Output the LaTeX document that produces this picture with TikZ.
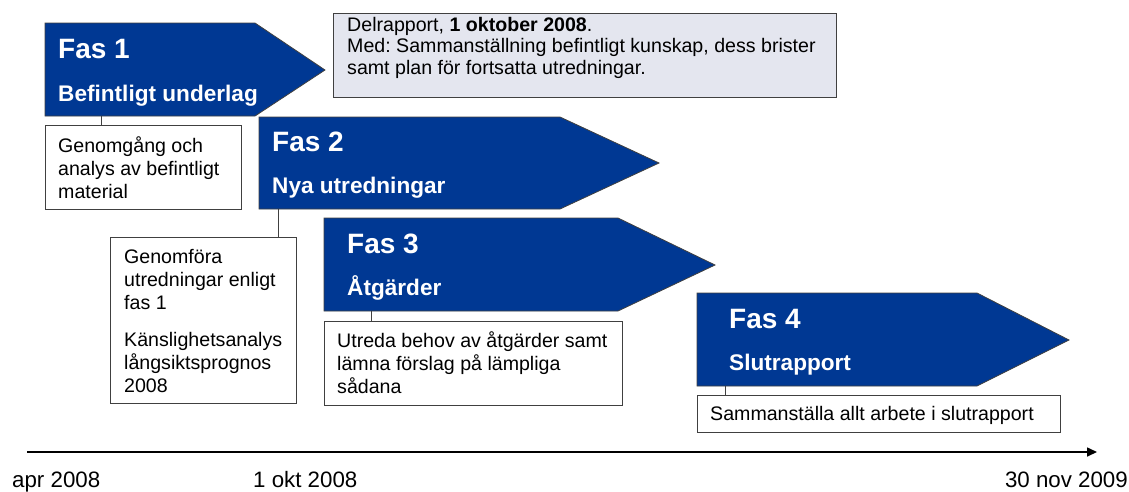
\documentclass[tikz,border=0pt]{standalone}
\usepackage{fontspec}
\setmainfont{Liberation Sans}
\usetikzlibrary{arrows.meta}
\definecolor{fasblue}{RGB}{0,56,147}
\definecolor{edgegray}{RGB}{64,64,64}
\definecolor{delfill}{RGB}{228,230,239}
\frenchspacing
\begin{document}
\begin{tikzpicture}[x=1pt,y=-1pt,
  fas/.style={fill=fasblue, draw=edgegray, line width=0.8pt},
  head/.style={anchor=base west, inner sep=0, text=white, font=\fontsize{28}{32}\selectfont\bfseries},
  sub/.style={anchor=base west, inner sep=0, text=white, font=\fontsize{22.6}{26}\selectfont\bfseries},
  body/.style={anchor=base west, inner sep=0, align=left, font=\fontsize{19.6}{23.3}\selectfont},
  tbox/.style={draw=edgegray, line width=0.8pt, anchor=north west, inner sep=0},
  link/.style={draw=edgegray, line width=0.8pt},
  datelbl/.style={inner sep=0, font=\fontsize{22.3}{26}\selectfont}]
\useasboundingbox (0,0) rectangle (1129,491);

% Fas 1
\draw[fas] (45,23) -- (255,23) -- (325,70) -- (255,116) -- (45,116) -- cycle;
\node[head] (h1) at (58,58) {Fas 1};
\node[sub] (s1) at (58,101) {Befintligt underlag};
\coordinate (f1b) at (101,116);
\node[tbox, minimum width=196, minimum height=84] (b1) at (45,125) {};
\node[body] (t1) at (58,198.6) {Genomgång och\\analys av befintligt\\material};
\draw[link] (f1b) -- (f1b |- b1.north);

% Delrapport
\node[tbox, fill=delfill, minimum width=503, minimum height=84] (del) at (333,13) {};
\node[body, font=\fontsize{19.6}{21.5}\selectfont] (tdel) at (347,74) {Delrapport, \textbf{1 oktober 2008}.\\Med: Sammanställning befintligt kunskap, dess brister\\samt plan för fortsatta utredningar.};

% Fas 2
\draw[fas] (259,117) -- (560,117) -- (659,163) -- (560,209) -- (259,209) -- cycle;
\node[head] (h2) at (272,151) {Fas 2};
\node[sub] (s2) at (272,193) {Nya utredningar};
\coordinate (f2b) at (278,209);
\node[tbox, minimum width=186, minimum height=166] (b2) at (110,237) {};
\node[body] (t2a) at (124,309.6) {Genomföra\\utredningar enligt\\fas 1};
\node[body] (t2b) at (124,392.6) {Känslighetsanalys\\långsiktsprognos\\2008};
\draw[link] (f2b) -- (f2b |- b2.north);

% Fas 3
\draw[fas] (324,218) -- (618,218) -- (715,265) -- (618,311) -- (324,311) -- cycle;
\node[head] (h3) at (347,253) {Fas 3};
\node[sub] (s3) at (347,295) {Åtgärder};
\coordinate (f3b) at (371,311);
\node[tbox, minimum width=298, minimum height=84] (b3) at (324,321) {};
\node[body] (t3) at (337,393.6) {Utreda behov av åtgärder samt\\lämna förslag på lämpliga\\sådana};
\draw[link] (f3b) -- (f3b |- b3.north);

% Fas 4
\draw[fas] (697,293) -- (977,293) -- (1069,340) -- (977,386) -- (697,386) -- cycle;
\node[head] (h4) at (729,328) {Fas 4};
\node[sub] (s4) at (729,370) {Slutrapport};
\coordinate (f4b) at (725,386);
\node[tbox, minimum width=363, minimum height=37] (b4) at (697,395) {};
\node[body] (t4) at (710,420) {Sammanställa allt arbete i slutrapport};
\draw[link] (f4b) -- (f4b |- b4.north);

% Timeline
\coordinate (tl0) at (27,452);
\coordinate (tl1) at (1097,452);
\draw[line width=1.6pt, -{Triangle[length=10,width=9]}] (tl0) -- (tl1);
\node[datelbl, anchor=base west] (d1) at (12,487) {apr 2008};
\node[datelbl, anchor=base west] (d2) at (253,487) {1 okt 2008};
\node[datelbl, anchor=base east] (d3) at (1128,487) {30 nov 2009};
\end{tikzpicture}
\end{document}
